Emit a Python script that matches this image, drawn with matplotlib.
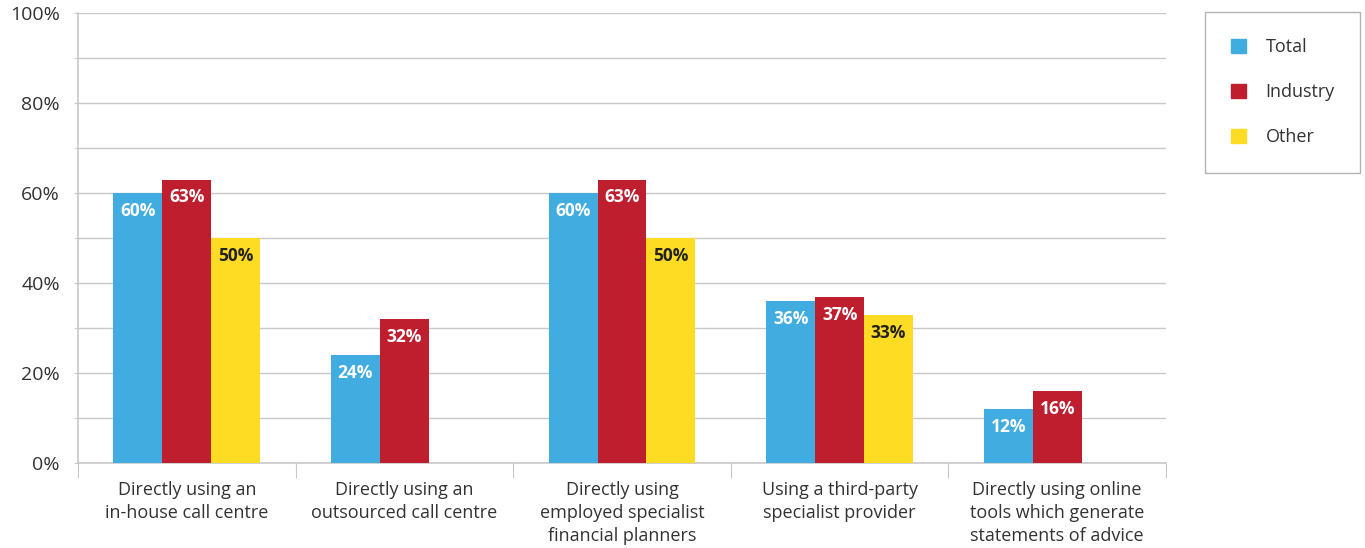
import numpy as np
import matplotlib
matplotlib.use("Agg")
import matplotlib.pyplot as plt
from matplotlib.patches import Patch

plt.rcParams["font.family"] = ["Open Sans", "DejaVu Sans"]

categories = [
    "Directly using an\nin-house call centre",
    "Directly using an\noutsourced call centre",
    "Directly using\nemployed specialist\nfinancial planners",
    "Using a third-party\nspecialist provider",
    "Directly using online\ntools which generate\nstatements of advice",
]
series_names = ["Total", "Industry", "Other"]
total = [60, 24, 60, 36, 12]
industry = [63, 32, 63, 37, 16]
other = [50, None, 50, 33, None]

colors = ["#41ACE0", "#BE1E2D", "#FFDC24"]
label_colors = ["white", "white", "#222222"]
grid_col = "#C8C8C8"
text_col = "#333333"

fig = plt.figure(figsize=(13.65, 5.48), dpi=100)
ax = fig.add_axes([78 / 1365, 85 / 548, (1166 - 78) / 1365, 450 / 548])

x = np.arange(len(categories))
w = 0.225
offsets = [-w, 0, w]

for vals, off, col, lc in zip([total, industry, other], offsets, colors, label_colors):
    for i, v in enumerate(vals):
        if v is None:
            continue
        ax.bar(x[i] + off, v, width=w, color=col, zorder=3)
        ax.text(x[i] + off, v - 4, f"{v}%", ha="center", va="center",
                color=lc, fontsize=12.5, fontweight="bold", zorder=4)

ax.set_xlim(-0.5, len(categories) - 0.5)
ax.set_ylim(0, 100)

# y axis
ax.set_yticks(np.arange(0, 101, 20))
ax.set_yticklabels([f"{t}%" for t in range(0, 101, 20)])
ax.set_yticks(np.arange(10, 100, 20), minor=True)
ax.yaxis.grid(True, which="both", color=grid_col, linewidth=1, zorder=0)
ax.tick_params(axis="y", which="both", length=3, color=grid_col, pad=10,
               labelsize=14, labelcolor=text_col)

# x axis: boundary ticks, labels at centres
ax.set_xticks(np.arange(-0.5, len(categories), 1))
ax.set_xticklabels([])
ax.set_xticks(x, minor=True)
ax.set_xticklabels(categories, minor=True, linespacing=1.36)
ax.tick_params(axis="x", which="major", length=11, color=grid_col)
ax.tick_params(axis="x", which="minor", length=0, pad=13, labelsize=13,
               labelcolor=text_col)
ax.xaxis.grid(False)

for s in ["top", "right"]:
    ax.spines[s].set_visible(False)
for s in ["left", "bottom"]:
    ax.spines[s].set_color(grid_col)
    ax.spines[s].set_linewidth(1.2)
ax.set_axisbelow(True)

handles = [Patch(color=c) for c in colors]
leg = fig.legend(handles, series_names, loc="upper left",
                 bbox_to_anchor=(1205 / 1365, 1 - 171 / 548, 155 / 1365, 159 / 548),
                 mode="expand",
                 fontsize=13, frameon=True, fancybox=False,
                 handlelength=0.8, handleheight=0.8, handletextpad=1.1,
                 labelspacing=1.5, borderpad=1.45, borderaxespad=0)
leg.get_frame().set_edgecolor("#A0A0A0")
leg.get_frame().set_linewidth(1)
for t in leg.get_texts():
    t.set_color(text_col)

fig.savefig("out.png", dpi=100)
